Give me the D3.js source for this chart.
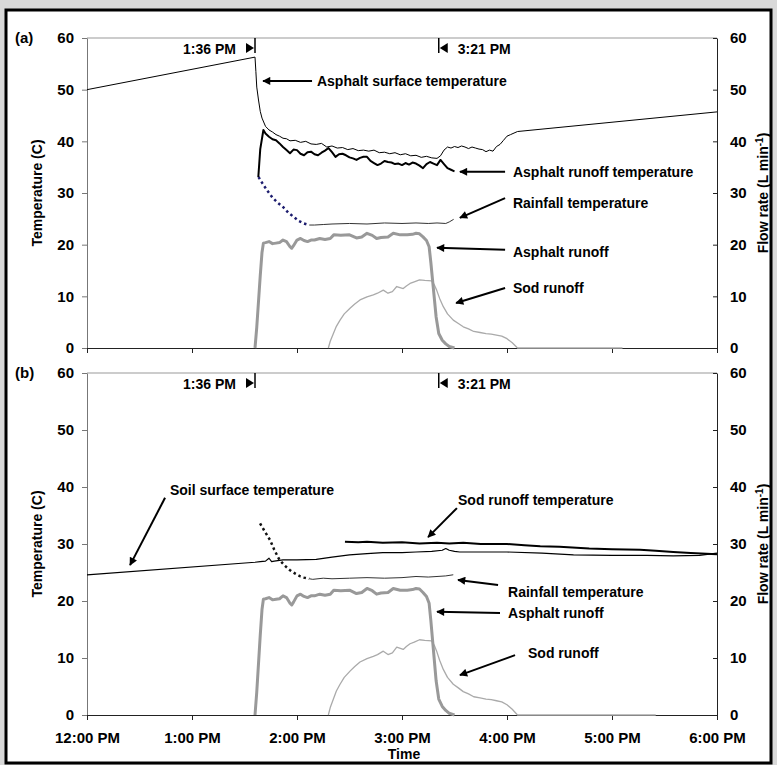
<!DOCTYPE html>
<html>
<head>
<meta charset="utf-8">
<script src="https://cdn.jsdelivr.net/npm/d3@7"></script>
<style>
  body { margin: 0; background: #d9d9d9; }
  svg { display: block; font-family: "Liberation Sans", Arial, sans-serif; font-weight: bold; }
</style>
</head>
<body>
<div id="chart"></div>
<script>
// minutes after 12:00 PM, temperature in C / flow in L/min
const surfaceT = [0, 96, 96.5, 97, 98, 99, 100, 102, 104, 106, 108, 110, 112, 114, 116, 119, 122, 125, 128, 131, 134, 137, 140, 143, 146, 149, 152, 155, 158, 161, 164, 167, 170, 173, 176, 179, 182, 185, 188, 191, 194, 197, 200, 202, 204, 206, 208, 210, 212, 214, 216, 218, 220, 222, 224, 226, 228, 230, 232, 234, 236, 238, 240, 242, 244, 246, 360];
const surfaceV = [50, 56.3, 53.5, 50.5, 48, 45.8, 44.5, 42.9, 42.2, 41.8, 41.3, 41.0, 40.6, 40.5, 40.1, 40.2, 39.8, 40.0, 39.5, 39.4, 39.6, 38.9, 39.1, 38.7, 38.8, 38.4, 38.6, 38.2, 38.3, 38.1, 38.3, 37.8, 37.9, 37.6, 37.8, 37.4, 37.6, 37.2, 37.3, 36.9, 37.1, 36.8, 36.7, 37.2, 38.3, 38.9, 38.7, 39.0, 38.8, 39.1, 38.9, 38.6, 38.9, 38.7, 38.5, 38.4, 38.0, 38.3, 38.1, 39.0, 39.4, 40.2, 41.0, 41.3, 41.6, 41.9, 45.7];

const asphRunTempT = [97.9, 99, 100.8, 102, 104, 106, 108, 110, 112, 114, 116, 118, 120, 122, 124, 126, 128, 130, 132, 134, 136, 138, 140, 142, 144, 146, 148, 150, 152, 154, 156, 158, 160, 162, 164, 166, 168, 170, 172, 174, 176, 178, 180, 182, 184, 186, 188, 190, 192, 194, 196, 198, 200, 202, 204, 206, 208, 210];
const asphRunTempV = [33.1, 38.5, 42.2, 41.5, 40.9, 40.4, 40.2, 39.6, 38.9, 38.3, 37.7, 38.4, 38.3, 37.6, 37.3, 37.9, 38.0, 37.5, 37.3, 37.8, 38.2, 38.7, 37.9, 37.0, 37.5, 37.6, 37.3, 36.9, 36.7, 36.4, 36.8, 37.0, 37.0, 36.2, 35.8, 35.4, 35.7, 36.2, 36.0, 35.9, 35.6, 35.7, 35.4, 35.8, 35.5, 35.9, 35.7, 35.3, 34.8, 35.6, 36.0, 35.7, 35.4, 36.4, 35.6, 34.8, 34.5, 34.2];

// rainfall temperature: dotted (early) part and measured part, panels a and b
const rainEstAT = [98, 100, 102.7, 106, 109, 112, 115, 118, 121, 124, 127];
const rainEstAV = [33.1, 32, 30.6, 29.1, 28.1, 27.3, 26.2, 25.4, 24.6, 24.1, 23.8];
const rainAT = [127, 130, 135, 140, 150, 160, 170, 180, 188, 195, 200, 205, 207, 209.5];
const rainAV = [23.8, 23.8, 23.9, 24.0, 24.1, 24.0, 24.2, 24.1, 24.2, 24.1, 24.2, 24.1, 24.4, 24.9];
const rainEstBT = [98.9, 101, 104.6, 107, 110, 113, 116, 119, 122, 124, 127];
const rainEstBV = [33.6, 32.5, 30.7, 29, 27.2, 26.2, 25.4, 24.8, 24.3, 24.1, 23.9];
const rainBT = [127, 129, 135, 140, 150, 160, 170, 180, 188, 195, 200, 205, 209.3];
const rainBV = [23.9, 23.8, 24.0, 23.9, 24.0, 24.1, 24.0, 24.1, 24.3, 24.2, 24.3, 24.4, 24.6];

const asphFlowT = [96, 97, 98, 99, 100, 100.8, 102, 104, 106, 108, 110, 112, 114, 116, 117, 118, 120, 122, 124, 126, 128, 130, 133, 136, 139, 141, 145, 150, 154, 157, 160, 163, 165.5, 168, 172, 175, 179, 183, 186, 188, 190, 192, 194, 195.5, 196.5, 197.5, 198.5, 199.5, 201, 203, 205, 207, 209, 210];
const asphFlowV = [0, 4, 9, 14, 18.5, 20.3, 20.4, 20.6, 20.2, 20.3, 20.4, 20.9, 20.6, 19.6, 19.3, 19.8, 20.9, 21.2, 20.8, 20.6, 20.9, 20.9, 21.2, 21.0, 21.2, 21.9, 21.8, 21.9, 21.3, 21.5, 22.2, 21.8, 21.2, 21.4, 21.5, 22.2, 21.9, 21.9, 22.0, 22.2, 22.1, 21.5, 20.8, 19.6, 16.5, 13, 9.5, 6, 2.8, 1.5, 0.8, 0.3, 0.1, 0];

const sodFlowT = [137.9, 139, 140.8, 142.5, 144.6, 147, 150.3, 153, 156, 160, 163.6, 166, 169.3, 172, 174.5, 177, 180.7, 182.5, 184.6, 187, 190, 193, 197, 198.5, 199.8, 201.5, 203.6, 206, 209.3, 212, 215, 218, 221, 224.6, 228, 231, 234, 237, 240, 243, 246];
const sodFlowV = [0, 1.3, 2.8, 4.2, 5.4, 6.6, 7.7, 8.5, 9.3, 9.9, 10.3, 10.6, 11.2, 10.6, 10.9, 11.9, 11.5, 12.0, 12.5, 12.8, 13.2, 13.1, 13.0, 12.2, 11.2, 9.6, 8.0, 6.6, 5.4, 4.8, 4.1, 3.7, 3.2, 3.0, 2.8, 2.7, 2.5, 2.3, 1.8, 1.0, 0];
const sodFlowEnd = [306, 325]; // last logged zero, panel a / panel b

const soilT = [0, 96, 99, 102, 104, 105.5, 107, 112, 120, 131, 140, 150, 160, 169, 180, 188, 197, 203, 205, 207, 210, 213, 220, 240, 260, 278, 300, 320, 335, 350, 360];
const soilV = [24.6, 26.8, 26.9, 27.0, 27.5, 26.9, 27.0, 27.2, 27.2, 27.3, 27.7, 28.1, 28.3, 28.5, 28.5, 28.6, 28.7, 28.9, 29.2, 28.9, 28.7, 28.6, 28.6, 28.6, 28.4, 28.1, 28.0, 28.0, 27.9, 28.0, 28.4];

const sodTempT = [147.4, 155, 160, 169, 180, 190, 200, 207, 215, 225, 240, 250, 259, 270, 287, 300, 316, 325, 335, 345, 360];
const sodTempV = [30.4, 30.3, 30.4, 30.2, 30.3, 30.1, 30.2, 30.1, 30.2, 30.0, 30.0, 29.8, 29.6, 29.5, 29.2, 29.1, 29.0, 28.8, 28.6, 28.4, 28.2];

const eventTimes = [96, 201];
const eventLabels = ["1:36 PM", "3:21 PM"];
const yTicks = [0, 10, 20, 30, 40, 50, 60];

const width = 777, height = 765;
const base = new Date(2000, 0, 1, 12, 0);
const at = m => new Date(base.getTime() + m * 60000);
const pts = (t, v) => t.map((ti, i) => [ti, v[i]]);

const x = d3.scaleTime().domain([at(0), at(360)]).range([87, 717]);

const svg = d3.select("#chart").append("svg").attr("width", width).attr("height", height);

svg.append("defs").append("marker").attr("id", "arr")
  .attr("viewBox", "0 0 10 10").attr("refX", 9).attr("refY", 5)
  .attr("markerWidth", 10).attr("markerHeight", 8).attr("markerUnits", "userSpaceOnUse")
  .attr("orient", "auto")
  .append("path").attr("d", "M0,0L10,5L0,10z").attr("fill", "#000");

svg.append("rect").attr("x", 6).attr("y", 10).attr("width", 765).attr("height", 753)
  .attr("fill", "#fff").attr("stroke", "#000").attr("stroke-width", 3);

const drawPanel = function(p) {
  const y = d3.scaleLinear().domain([0, 60]).range([p.bottom, p.top]);
  const g = svg.append("g");
  const line = d3.line().x(d => x(at(d[0]))).y(d => y(d[1]));

  // frame top
  g.append("line").attr("x1", 87).attr("x2", 717).attr("y1", p.top).attr("y2", p.top)
    .attr("stroke", "#999").attr("stroke-width", 1);

  const left = g.append("g").attr("transform", "translate(87,0)")
    .call(d3.axisLeft(y).tickValues(yTicks).tickSize(5).tickSizeOuter(0).tickPadding(8));
  left.selectAll("path,line").attr("stroke", "#777");

  const right = g.append("g").attr("transform", "translate(717,0)")
    .call(d3.axisRight(y).tickValues(yTicks).tickSize(-4).tickSizeOuter(0).tickPadding(13));
  right.selectAll("path,line").attr("stroke", "#222");

  const bottom = g.append("g").attr("transform", `translate(0,${p.bottom})`)
    .call(d3.axisBottom(x).ticks(d3.timeHour.every(1)).tickSize(5).tickSizeOuter(0).tickPadding(12)
      .tickFormat(p.labels ? d3.timeFormat("%-I:%M %p") : ""));
  bottom.selectAll("path,line").attr("stroke", "#222");

  g.selectAll(".tick text").attr("font-size", 15).attr("font-weight", "bold")
    .attr("font-family", "Liberation Sans, Arial, sans-serif").attr("fill", "#000");

  // series
  p.series.forEach(s => {
    g.append("path").datum(s.data).attr("d", line).attr("fill", "none")
      .attr("stroke", s.color).attr("stroke-width", s.w)
      .attr("stroke-dasharray", s.dash || null).attr("stroke-linejoin", "round");
  });

  // event markers
  eventTimes.forEach((t, i) => {
    const ex = x(at(t));
    g.append("line").attr("x1", ex).attr("x2", ex).attr("y1", p.top).attr("y2", p.top + 15)
      .attr("stroke", "#000").attr("stroke-width", 1.5);
    const dir = i === 0 ? -1 : 1;
    g.append("path").attr("fill", "#000")
      .attr("d", `M${ex + dir * 1},${p.top + 10}L${ex + dir * 9},${p.top + 5}L${ex + dir * 9},${p.top + 15}z`);
    g.append("text").attr("x", ex + dir * 19).attr("y", p.top + 11).attr("dy", "0.35em")
      .attr("text-anchor", i === 0 ? "end" : "start").attr("font-size", 14).text(eventLabels[i]);
  });

  // annotations: [label, textT, textV, tailT, tailV, headT, headV]
  p.notes.forEach(n => {
    g.append("line").attr("x1", x(at(n[3]))).attr("y1", y(n[4]))
      .attr("x2", x(at(n[5]))).attr("y2", y(n[6]))
      .attr("stroke", "#000").attr("stroke-width", 2).attr("marker-end", "url(#arr)");
    g.append("text").attr("x", x(at(n[1]))).attr("y", y(n[2])).attr("dy", "0.35em")
      .attr("font-size", 14).text(n[0]);
  });

  g.append("text").attr("x", 15).attr("y", p.top).attr("dy", "0.35em")
    .attr("font-size", 15).text(p.tag);

  const mid = (p.top + p.bottom) / 2;
  g.append("text").attr("transform", `translate(37,${mid}) rotate(-90)`)
    .attr("text-anchor", "middle").attr("dy", "0.35em").attr("font-size", 14).text("Temperature (C)");

  const fr = g.append("text").attr("transform", `translate(763,${mid}) rotate(-90)`)
    .attr("text-anchor", "middle").attr("dy", "0.35em").attr("font-size", 14);
  fr.append("tspan").text("Flow rate (L min");
  fr.append("tspan").attr("baseline-shift", "super").attr("font-size", 10).text("-1");
  fr.append("tspan").text(")");
};

const flows = end => [
  { data: pts(sodFlowT, sodFlowV).concat([[end, 0]]), color: "#aaa", w: 1.3 },
  { data: pts(asphFlowT, asphFlowV), color: "#999", w: 3 }
];

drawPanel({
  tag: "(a)", top: 38, bottom: 348, labels: false,
  series: flows(sodFlowEnd[0]).concat([
    { data: pts(rainAT, rainAV), color: "#333", w: 1 },
    { data: pts(rainEstAT, rainEstAV), color: "#1c1c6e", w: 2.5, dash: "2.5,3" },
    { data: pts(surfaceT, surfaceV), color: "#000", w: 1 },
    { data: pts(asphRunTempT, asphRunTempV), color: "#000", w: 2 }
  ]),
  notes: [
    ["Asphalt surface temperature", 131.4, 51.7, 128.6, 51.7, 100.6, 51.7],
    ["Asphalt runoff temperature", 243.4, 34.1, 238.9, 34.1, 213.1, 34.1],
    ["Rainfall temperature", 243.4, 28.1, 238.9, 29.0, 213.1, 25.2],
    ["Asphalt runoff", 243.4, 18.6, 238.9, 19.0, 200, 19.4],
    ["Sod runoff", 243.4, 11.6, 238.9, 11.6, 210.9, 8.7]
  ]
});

drawPanel({
  tag: "(b)", top: 373, bottom: 715, labels: true,
  series: flows(sodFlowEnd[1]).concat([
    { data: pts(rainBT, rainBV), color: "#333", w: 1 },
    { data: pts(rainEstBT, rainEstBV), color: "#111", w: 2.5, dash: "2.5,3" },
    { data: pts(soilT, soilV), color: "#000", w: 1.2 },
    { data: pts(sodTempT, sodTempV), color: "#000", w: 2 }
  ]),
  notes: [
    ["Soil surface temperature", 47.4, 39.5, 44.6, 38.1, 24.6, 26.3],
    ["Sod runoff temperature", 212, 37.7, 211.4, 36.3, 194.9, 31.2],
    ["Rainfall temperature", 240.6, 21.6, 234.9, 22.8, 212, 23.7],
    ["Asphalt runoff", 240.6, 17.9, 236, 17.9, 200, 18.1],
    ["Sod runoff", 252, 10.9, 244.6, 10.5, 213.1, 7.0]
  ]
});

svg.append("text").attr("x", 404).attr("y", 754).attr("dy", "0.35em")
  .attr("text-anchor", "middle").attr("font-size", 14).text("Time");
</script>
</body>
</html>
